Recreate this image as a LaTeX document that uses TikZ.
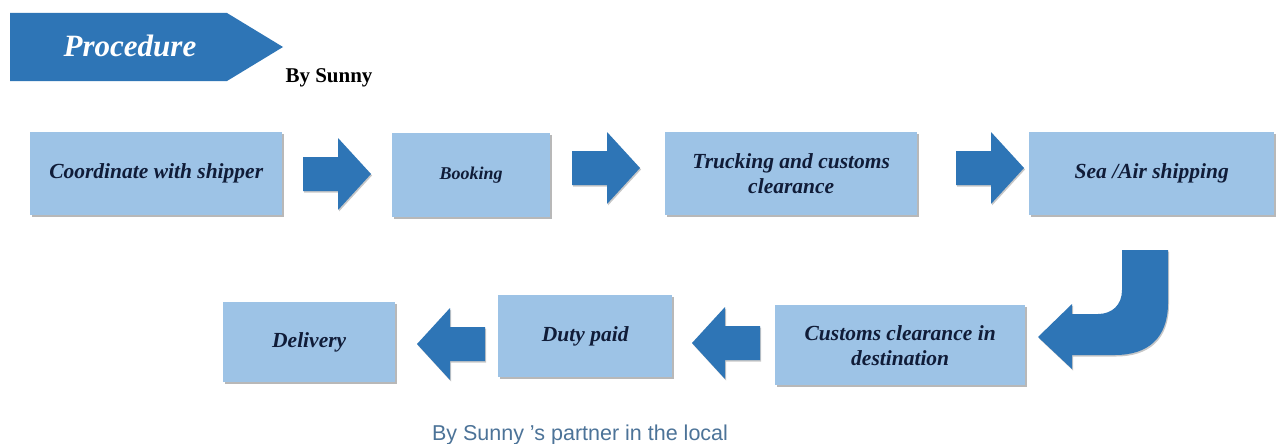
\documentclass[tikz,border=0pt]{standalone}
\usepackage{fontspec}
\setmainfont{Liberation Serif}
\setsansfont{Liberation Sans}
\usetikzlibrary{shadows,calc}
\definecolor{boxblue}{HTML}{9DC3E6}
\definecolor{arrowblue}{HTML}{2E75B6}
\definecolor{txtnavy}{HTML}{101C38}
\definecolor{footblue}{HTML}{4C7398}
\newcommand{\blockarrow}[2]{%
  \fill[arrowfill, shift={(#1)}, rotate=#2]
    (-34,-17) -- (1,-17) -- (1,-36) -- (34,0) -- (1,36) -- (1,17) -- (-34,17) -- cycle;}
\begin{document}
\begin{tikzpicture}[x=1pt,y=-1pt,
  stepbox/.style={draw=none, fill=boxblue, anchor=north west, inner sep=0pt,
    align=center, text=txtnavy,
    font=\fontsize{21.5}{25}\selectfont\bfseries\itshape,
    drop shadow={shadow xshift=1.5pt, shadow yshift=-2pt, fill=black, opacity=0.28}},
  arrowfill/.style={fill=arrowblue,
    drop shadow={shadow xshift=1pt, shadow yshift=-1.5pt, fill=black, opacity=0.22}},
]
\useasboundingbox (0,0) rectangle (1276,444);
\fill[white] (0,0) rectangle (1276,444);

% header banner
\fill[arrowblue] (10,13) -- (227,13) -- (283,47) -- (227,81) -- (10,81) -- cycle;
\node[text=white, font=\fontsize{31}{36}\selectfont\bfseries\itshape] (title) at (130,46) {Procedure};
\node[text=black, anchor=base, font=\fontsize{21}{24}\selectfont\bfseries] (by) at (329,82) {By Sunny};

% first row
\node[stepbox, minimum width=252pt, minimum height=83pt] (b1) at (30,132) {Coordinate with shipper};
\node[stepbox, minimum width=158pt, minimum height=84pt,
      font=\fontsize{18}{21}\selectfont\bfseries\itshape] (b2) at (392,133) {Booking};
\node[stepbox, minimum width=252pt, minimum height=83pt] (b3) at (665,132) {Trucking and customs\\clearance};
\node[stepbox, minimum width=245pt, minimum height=83pt] (b4) at (1029,132) {Sea /Air shipping};

% second row
\node[stepbox, minimum width=250pt, minimum height=80pt] (b5) at (775,305) {Customs clearance in\\destination};
\node[stepbox, minimum width=174pt, minimum height=82pt] (b6) at (498,295) {Duty paid};
\node[stepbox, minimum width=172pt, minimum height=80pt] (b7) at (223,302) {Delivery};

% connector positions
\coordinate (a1) at (337,174);
\coordinate (a2) at (606,168);
\coordinate (a3) at (990,168);
\coordinate (a5) at (726,343);
\coordinate (a6) at (451,344);
\blockarrow{a1}{0}
\blockarrow{a2}{0}
\blockarrow{a3}{0}
\blockarrow{a5}{180}
\blockarrow{a6}{180}

% curved arrow from b4 down to b5
\fill[arrowfill] (1122,250) -- (1168,250) -- (1168,303)
  .. controls (1168,338) and (1148,355) .. (1115,355)
  -- (1072,355) -- (1072,369) -- (1038,337) -- (1072,304) -- (1072,314)
  -- (1098,314) .. controls (1112,314) and (1122,305) .. (1122,290) -- cycle;

% footer
\node[anchor=base, font=\sffamily\fontsize{21.5}{25}\selectfont, text=footblue] (foot) at (580,440) {By Sunny 's partner in the local};
\end{tikzpicture}
\end{document}
